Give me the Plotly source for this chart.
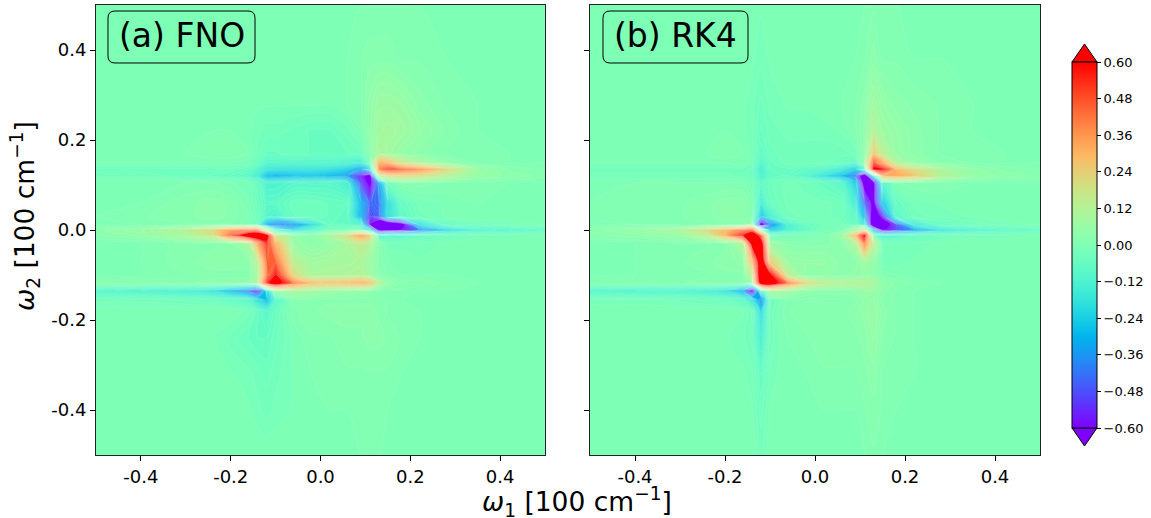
import math
import plotly.graph_objects as go

W, H = 1151, 518

omega1 = [-.5,-.4,-.3,-.24,-.2,-.16,-.14,-.12,-.10,-.06,-.02,.02,.06,.09,.11,.13,.15,.18,.22,.28,.35,.42,.5]
omega2 = [.5,.38,.28,.22,.17,.15,.135,.12,.105,.06,.03,.012,0,-.012,-.03,-.07,-.10,-.118,-.135,-.155,-.18,-.24,-.32,-.4,-.5]

fno_z = [
[0,0,0,0,0,0,0,0,0,0,0,0,0,0,0,0,0,0,0,0,0,0,0],
[0,0,0,0,0,0,0,0,-.01,-.01,-.01,0,0,.01,.02,.02,.02,.01,.01,0,0,0,0],
[0,0,0,0,0,-.01,-.01,-.01,-.01,-.01,-.01,-.01,0,.01,.04,.07,.07,.06,.03,.01,0,0,0],
[0,0,0,0,0,-.01,-.02,-.03,-.03,-.04,-.05,-.05,-.03,0,.04,.08,.09,.08,.05,.02,0,0,0],
[0,0,0,.01,.01,0,-.03,-.05,-.05,-.04,-.05,-.05,-.05,-.04,.02,.1,.08,.05,.03,.01,.01,0,0],
[-.01,-.01,-.01,-.01,-.01,-.02,-.05,-.1,-.1,-.1,-.1,-.1,-.12,-.14,-.02,.30,.30,.18,.1,.04,.01,0,0],
[-.04,-.04,-.04,-.04,-.04,-.06,-.1,-.16,-.18,-.18,-.18,-.2,-.24,-.34,-.2,.40,.52,.46,.38,.22,.06,.02,.01],
[-.03,-.03,-.04,-.05,-.06,-.09,-.14,-.28,-.3,-.28,-.27,-.3,-.36,-.55,-.68,.1,.2,.22,.2,.12,.05,.03,.02],
[0,0,0,0,-.01,-.02,-.06,-.12,-.12,-.1,-.1,-.1,-.14,-.5,-.65,-.35,-.04,.02,.02,.01,.01,0,0],
[0,0,.02,.03,.02,-.01,-.04,-.08,-.08,-.04,-.04,-.05,-.06,-.3,-.45,-.42,-.2,-.06,-.02,-.01,0,0,0],
[0,.01,.02,.03,.02,0,-.03,-.1,-.12,-.05,-.04,-.05,-.07,-.3,-.5,-.45,-.2,-.08,-.03,-.01,0,0,0],
[0,0,.01,.01,.01,-.01,-.05,-.3,-.42,-.38,-.2,-.06,-.06,-.12,-.6,-.8,-.8,-.7,-.2,-.06,-.03,-.02,-.01],
[.03,.06,.12,.22,.35,.42,.42,.12,-.1,-.2,-.1,-.02,-.01,0,-.2,-.65,-.65,-.6,-.42,-.22,-.12,-.1,-.07],
[.02,.04,.1,.18,.45,.75,.8,.7,.18,.05,.02,.1,.2,.36,.25,-.1,-.1,-.1,-.06,-.04,-.02,-.02,-.01],
[0,0,.02,.02,.03,.1,.35,.55,.32,.06,.03,.05,.1,.16,.12,.02,-.02,-.02,-.02,-.01,0,0,0],
[0,0,.02,.03,.03,.03,.14,.45,.45,.14,.08,.09,.09,.1,.07,.02,0,0,-.01,-.01,0,0,0],
[0,0,.01,.02,.02,.02,.1,.42,.6,.22,.1,.1,.11,.12,.08,.03,.01,0,0,0,0,0,0],
[.02,.02,.02,.03,.03,.04,.1,.55,.72,.42,.3,.28,.3,.32,.28,.12,.05,.02,.02,.01,0,0,0],
[-.1,-.12,-.14,-.18,-.28,-.42,-.55,-.2,.05,.1,.08,.06,.05,.04,.03,.01,.01,.01,0,0,0,0,0],
[-.03,-.03,-.04,-.05,-.07,-.1,-.2,-.28,-.1,.02,.02,.02,.02,.02,.02,.02,.01,0,0,0,0,0,0],
[0,0,0,0,0,-.02,-.06,-.1,-.05,.01,.02,.03,.03,.03,.03,.02,.01,.01,0,0,0,0,0],
[0,0,0,-.01,-.03,-.05,-.06,-.06,-.04,-.01,.01,.01,.02,.02,.03,.03,.02,.01,0,0,0,0,0],
[0,0,0,0,-.01,-.02,-.03,-.04,-.03,-.01,0,.01,.01,.01,.01,.01,.01,0,0,0,0,0,0],
[0,0,0,0,0,-.01,-.02,-.03,-.02,-.01,0,0,0,.01,.01,.01,0,0,0,0,0,0,0],
[0,0,0,0,0,0,0,0,0,0,0,0,0,0,0,0,0,0,0,0,0,0,0],
]

rk4_z = [
[0,0,0,0,0,0,0,-.01,0,0,0,0,0,0,0,.01,0,0,0,0,0,0,0],
[0,0,0,0,0,0,-.01,-.02,-.01,0,0,0,0,0,.01,.03,.01,.01,0,0,0,0,0],
[0,0,0,0,0,-.01,-.02,-.04,-.02,-.01,-.01,0,0,.01,.03,.08,.05,.03,.02,.01,0,0,0],
[0,0,0,0,0,-.01,-.02,-.05,-.03,-.02,-.02,-.02,-.01,.01,.04,.12,.07,.05,.03,.01,0,0,0],
[0,0,0,0,.01,0,-.02,-.07,-.04,-.03,-.03,-.03,-.03,-.02,.04,.26,.14,.06,.03,.01,.01,0,0],
[-.01,-.01,-.01,-.01,-.01,0,-.02,-.1,-.05,-.03,-.03,-.03,-.05,-.08,.06,.48,.34,.12,.05,.02,.01,0,0],
[-.03,-.03,-.03,-.03,-.03,-.03,-.04,-.14,-.06,-.05,-.07,-.1,-.16,-.24,-.1,.65,.62,.3,.2,.1,.04,.02,.01],
[-.02,-.02,-.02,-.02,-.02,-.03,-.04,-.12,-.07,-.06,-.1,-.18,-.28,-.42,-.75,-.2,.3,.32,.26,.12,.05,.03,.02],
[0,0,0,0,0,0,-.02,-.08,-.04,-.02,-.03,-.06,-.1,-.25,-.7,-.65,-.1,0,.01,.01,0,0,0],
[0,.01,.01,.02,.03,.03,0,-.14,-.05,-.02,-.02,-.02,-.03,-.15,-.45,-.66,-.26,-.06,-.02,-.01,0,0,0],
[0,.01,.01,.02,.03,.03,0,-.26,-.14,-.03,-.02,-.02,-.03,-.08,-.3,-.75,-.55,-.1,-.03,-.02,-.01,0,0],
[0,0,0,.01,.02,.02,.05,-.7,-.4,-.12,-.05,-.02,-.02,-.05,-.15,-.78,-.75,-.5,-.16,-.06,-.03,-.02,-.01],
[.03,.05,.1,.2,.28,.42,.5,.05,-.25,-.12,-.06,-.02,0,.1,.2,-.3,-.62,-.5,-.34,-.18,-.12,-.08,-.06],
[.02,.03,.06,.14,.3,.6,.78,.5,-.02,-.02,-.01,0,.06,.3,.65,0,-.12,-.1,-.06,-.04,-.02,-.02,-.01],
[0,0,.01,.01,.02,.12,.68,.72,.08,.02,.02,.02,.03,.12,.4,.14,-.02,-.02,-.02,-.01,0,0,0],
[0,0,.01,.02,.03,.04,.3,.78,.25,.06,.05,.05,.03,.03,.08,.05,-.02,-.02,-.01,-.01,0,0,0],
[0,0,.01,.01,.02,.02,.15,.8,.65,.15,.04,.04,.03,.04,.05,.04,.01,0,-.01,0,0,0,0],
[.01,.01,.01,.02,.02,.02,.06,.72,.75,.42,.22,.14,.12,.12,.12,.1,.04,.02,.01,0,0,0,0],
[-.1,-.12,-.12,-.14,-.18,-.32,-.65,-.1,.1,.08,.04,.03,.03,.04,.06,.06,.03,.01,0,0,0,0,0],
[-.02,-.02,-.03,-.04,-.05,-.08,-.18,-.4,-.04,.01,.01,.01,.01,.02,.04,.05,.02,.01,0,0,0,0,0],
[0,0,0,0,0,-.01,-.04,-.22,-.03,.01,.02,.02,.02,.03,.04,.06,.03,.01,0,0,0,0,0],
[0,0,0,0,-.01,-.02,-.04,-.14,-.03,0,.01,.02,.02,.02,.03,.05,.02,.01,0,0,0,0,0],
[0,0,0,0,0,-.01,-.02,-.06,-.02,0,0,.01,.01,.01,.02,.03,.01,.01,0,0,0,0,0],
[0,0,0,0,0,0,-.01,-.04,-.01,0,0,0,0,0,.01,.02,.01,0,0,0,0,0,0],
[0,0,0,0,0,0,0,-.03,0,0,0,0,0,0,0,.01,0,0,0,0,0,0,0],
]

axis_ticks = [-.4, -.2, 0, .2, .4]
axis_tick_labels = ["-0.4", "-0.2", "0.0", "0.2", "0.4"]
cbar_ticks = [-.6, -.48, -.36, -.24, -.12, 0, .12, .24, .36, .48, .6]
cbar_tick_labels = ["−0.60", "−0.48", "−0.36", "−0.24", "−0.12", "0.00", "0.12", "0.24", "0.36", "0.48", "0.60"]


def rainbow(t):
    r = min(1, abs(2 * t - 0.5))
    g = math.sin(math.pi * t)
    b = math.cos(math.pi * t / 2)
    return f"rgb({round(r*255)},{round(g*255)},{round(b*255)})"


scale = [[i / 64, rainbow(i / 64)] for i in range(65)]


def px(x):
    return x / W


def py(y):
    return 1 - y / H


fig = go.Figure()
for z, xa, ya in [(fno_z, "x", "y"), (rk4_z, "x2", "y2")]:
    fig.add_trace(go.Contour(
        x=omega1, y=omega2[::-1], z=z[::-1], xaxis=xa, yaxis=ya,
        colorscale=scale, zmin=-.6, zmax=.6, showscale=False,
        contours=dict(start=-.6, end=.6, size=.012, coloring="fill", showlines=True),
        line=dict(color="rgba(255,255,255,0.25)", width=0.4, smoothing=0.8),
        hoverinfo="skip",
    ))

fig.add_trace(go.Scatter(
    x=[None], y=[None], mode="markers", xaxis="x", yaxis="y", showlegend=False,
    marker=dict(
        color=[0], colorscale=scale, cmin=-.6, cmax=.6, showscale=True,
        colorbar=dict(
            x=px(1072), xanchor="left", xpad=0, y=py(245), yanchor="middle", ypad=0,
            thickness=25, thicknessmode="pixels", len=366, lenmode="pixels",
            outlinecolor="black", outlinewidth=1,
            tickmode="array", tickvals=cbar_ticks, ticktext=cbar_tick_labels,
            ticks="outside", ticklen=4, tickcolor="black",
            tickfont=dict(family="DejaVu Sans", size=13, color="black"),
        ),
    ),
))

axis_common = dict(
    range=[-.5, .5], tickmode="array", tickvals=axis_ticks, ticktext=axis_tick_labels,
    ticks="outside", ticklen=5, tickcolor="black", linecolor="#222", linewidth=1,
    mirror=True, showgrid=False, zeroline=False,
    tickfont=dict(family="DejaVu Sans", size=18, color="black"),
)
fig.update_layout(
    width=W, height=H, margin=dict(l=0, r=0, t=0, b=0),
    paper_bgcolor="white", plot_bgcolor="white", showlegend=False,
    xaxis=dict(domain=[px(96), px(545)], anchor="y", **axis_common),
    yaxis=dict(domain=[py(455), py(5)], anchor="x", **axis_common),
    xaxis2=dict(domain=[px(590), px(1040)], anchor="y2", **axis_common),
    yaxis2=dict(domain=[py(455), py(5)], anchor="x2", showticklabels=False, **axis_common),
)


def rounded_box(x0, y0, x1, y1, r=7):
    p = [("M", x0 + r, y0), ("L", x1 - r, y0), ("Q", x1, y0, x1, y0 + r), ("L", x1, y1 - r),
         ("Q", x1, y1, x1 - r, y1), ("L", x0 + r, y1), ("Q", x0, y1, x0, y1 - r),
         ("L", x0, y0 + r), ("Q", x0, y0, x0 + r, y0)]
    out = ""
    for seg in p:
        out += seg[0]
        pts = seg[1:]
        out += " ".join(f"{px(pts[i]):.5f},{py(pts[i+1]):.5f}" for i in range(0, len(pts), 2)) + " "
    return out + "Z"


shapes = [
    dict(type="path", xref="paper", yref="paper", path=rounded_box(108, 11, 255, 63),
         line=dict(color="black", width=1)),
    dict(type="path", xref="paper", yref="paper", path=rounded_box(603, 11, 748, 63),
         line=dict(color="black", width=1)),
    dict(type="path", xref="paper", yref="paper", fillcolor=rainbow(1.0),
         path=f"M{px(1072)},{py(62)} L{px(1084.5)},{py(44)} L{px(1097)},{py(62)} Z",
         line=dict(color="black", width=1)),
    dict(type="path", xref="paper", yref="paper", fillcolor=rainbow(0.0),
         path=f"M{px(1072)},{py(428)} L{px(1084.5)},{py(446)} L{px(1097)},{py(428)} Z",
         line=dict(color="black", width=1)),
]
fig.update_layout(shapes=shapes)

font_label = dict(family="DejaVu Sans", size=26.5, color="black")
font_panel = dict(family="DejaVu Sans", size=33, color="black")
common = dict(xref="paper", yref="paper", showarrow=False, xanchor="center", yanchor="middle")
fig.update_layout(annotations=[
    dict(text="(a) FNO", x=px(181.5), y=py(36), font=font_panel, **common),
    dict(text="(b) RK4", x=px(675.5), y=py(36), font=font_panel, **common),
    dict(text="<i>ω</i><sub>1</sub> [100 cm<sup>−1</sup>]", x=px(577), y=py(502), font=font_label, **common),
    dict(text="<i>ω</i><sub>2</sub> [100 cm<sup>−1</sup>]", x=px(25), y=py(216), textangle=-90, font=font_label, **common),
])

fig.write_html("out.html", config=dict(displayModeBar=False), post_script="document.body.style.margin='0';")
